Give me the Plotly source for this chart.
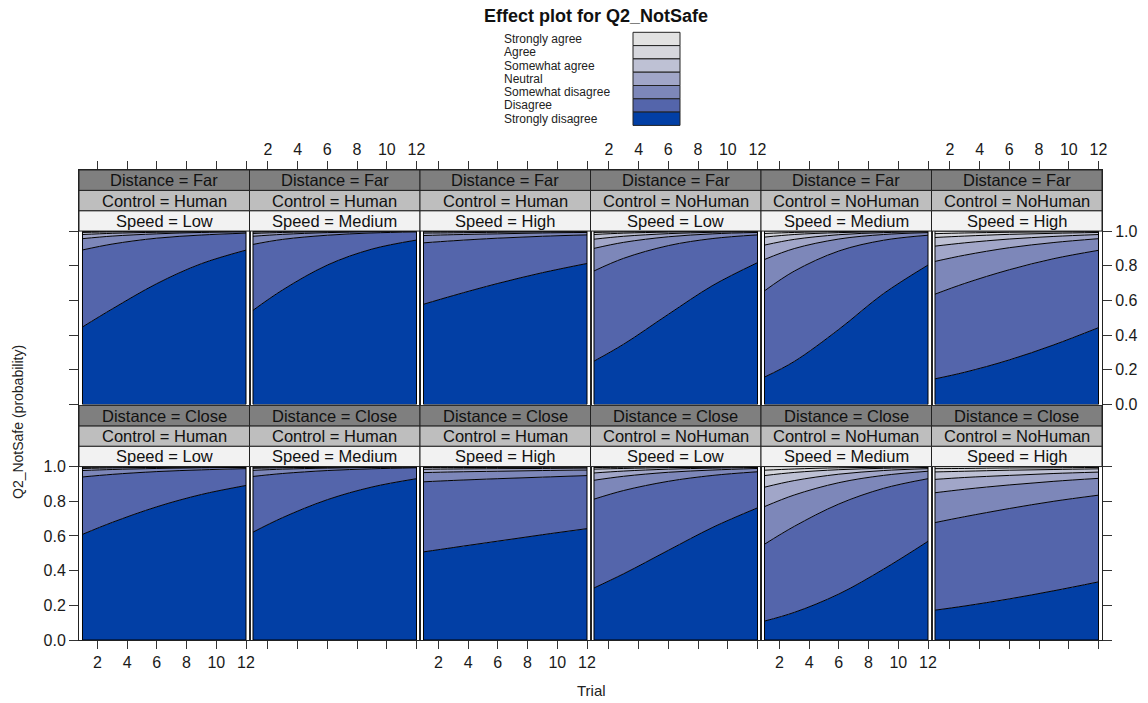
import math
import plotly.graph_objects as go

W, H = 1148, 703

# ---------------- data ----------------
TRIALS = [1, 3, 6, 9, 12]
LEVELS = ["Strongly disagree", "Disagree", "Somewhat disagree", "Neutral",
          "Somewhat agree", "Agree", "Strongly agree"]
DISTANCE = ["Far", "Close"]
CONTROL = ["Human", "Human", "Human", "NoHuman", "NoHuman", "NoHuman"]
SPEED = ["Low", "Medium", "High", "Low", "Medium", "High"]
X_TICKS = [2, 4, 6, 8, 10, 12]
Y_TICKS = [0.0, 0.2, 0.4, 0.6, 0.8, 1.0]

# cumulative probability P(Q2_NotSafe <= level) for the six lower levels,
# read at each value of TRIALS
FAR_HUMAN_LOW = [
    [0.447, 0.551, 0.697, 0.812, 0.890],
    [0.891, 0.925, 0.959, 0.977, 0.988],
    [0.956, 0.971, 0.984, 0.992, 0.995],
    [0.980, 0.987, 0.993, 0.996, 0.998],
    [0.992, 0.995, 0.997, 0.998, 0.999],
    [0.997, 0.998, 0.999, 0.999, 1.000],
]
FAR_HUMAN_MEDIUM = [
    [0.543, 0.661, 0.804, 0.896, 0.948],
    [0.923, 0.952, 0.976, 0.989, 0.995],
    [0.970, 0.981, 0.991, 0.996, 0.998],
    [0.986, 0.992, 0.996, 0.998, 0.999],
    [0.994, 0.997, 0.998, 0.999, 1.000],
    [0.998, 0.999, 0.999, 1.000, 1.000],
]
FAR_HUMAN_HIGH = [
    [0.578, 0.628, 0.698, 0.760, 0.813],
    [0.932, 0.944, 0.959, 0.970, 0.978],
    [0.974, 0.979, 0.984, 0.989, 0.992],
    [0.988, 0.990, 0.993, 0.995, 0.996],
    [0.995, 0.996, 0.997, 0.998, 0.998],
    [0.998, 0.998, 0.999, 0.999, 0.999],
]
FAR_NOHUMAN_LOW = [
    [0.250, 0.348, 0.520, 0.687, 0.818],
    [0.770, 0.843, 0.916, 0.957, 0.978],
    [0.900, 0.935, 0.967, 0.984, 0.992],
    [0.953, 0.970, 0.985, 0.993, 0.996],
    [0.980, 0.988, 0.994, 0.997, 0.998],
    [0.992, 0.995, 0.998, 0.999, 0.999],
]
FAR_NOHUMAN_MEDIUM = [
    [0.158, 0.248, 0.433, 0.639, 0.804],
    [0.655, 0.769, 0.885, 0.947, 0.976],
    [0.836, 0.899, 0.954, 0.980, 0.991],
    [0.919, 0.952, 0.979, 0.991, 0.996],
    [0.965, 0.980, 0.991, 0.996, 0.998],
    [0.986, 0.992, 0.997, 0.999, 0.999],
]
FAR_NOHUMAN_HIGH = [
    [0.148, 0.186, 0.257, 0.344, 0.443],
    [0.636, 0.698, 0.777, 0.841, 0.889],
    [0.825, 0.861, 0.904, 0.934, 0.956],
    [0.913, 0.932, 0.954, 0.969, 0.980],
    [0.963, 0.971, 0.981, 0.987, 0.992],
    [0.985, 0.989, 0.993, 0.995, 0.997],
]
CLOSE_HUMAN_LOW = [
    [0.609, 0.678, 0.768, 0.839, 0.891],
    [0.940, 0.955, 0.971, 0.981, 0.988],
    [0.977, 0.983, 0.989, 0.993, 0.995],
    [0.989, 0.992, 0.995, 0.997, 0.998],
    [0.996, 0.997, 0.998, 0.999, 0.999],
    [0.998, 0.999, 0.999, 1.000, 1.000],
]
CLOSE_HUMAN_MEDIUM = [
    [0.622, 0.706, 0.809, 0.882, 0.930],
    [0.943, 0.960, 0.977, 0.987, 0.993],
    [0.978, 0.985, 0.991, 0.995, 0.997],
    [0.990, 0.993, 0.996, 0.998, 0.999],
    [0.996, 0.997, 0.998, 0.999, 1.000],
    [0.998, 0.999, 0.999, 1.000, 1.000],
]
CLOSE_HUMAN_HIGH = [
    [0.508, 0.533, 0.570, 0.607, 0.642],
    [0.912, 0.920, 0.930, 0.939, 0.948],
    [0.965, 0.969, 0.973, 0.977, 0.980],
    [0.984, 0.986, 0.988, 0.989, 0.991],
    [0.994, 0.994, 0.995, 0.996, 0.996],
    [0.997, 0.998, 0.998, 0.998, 0.999],
]
CLOSE_NOHUMAN_LOW = [
    [0.300, 0.382, 0.517, 0.650, 0.762],
    [0.812, 0.862, 0.915, 0.949, 0.970],
    [0.921, 0.944, 0.967, 0.980, 0.989],
    [0.963, 0.974, 0.985, 0.991, 0.995],
    [0.985, 0.989, 0.994, 0.996, 0.998],
    [0.994, 0.996, 0.998, 0.999, 0.999],
]
CLOSE_NOHUMAN_MEDIUM = [
    [0.109, 0.159, 0.265, 0.408, 0.569],
    [0.552, 0.655, 0.784, 0.874, 0.930],
    [0.769, 0.836, 0.907, 0.949, 0.973],
    [0.881, 0.919, 0.956, 0.977, 0.988],
    [0.948, 0.966, 0.982, 0.990, 0.995],
    [0.979, 0.986, 0.993, 0.996, 0.998],
]
CLOSE_NOHUMAN_HIGH = [
    [0.172, 0.196, 0.237, 0.284, 0.335],
    [0.677, 0.711, 0.758, 0.800, 0.835],
    [0.849, 0.869, 0.894, 0.915, 0.932],
    [0.926, 0.937, 0.949, 0.960, 0.968],
    [0.969, 0.973, 0.979, 0.983, 0.987],
    [0.988, 0.989, 0.992, 0.993, 0.995],
]

PANEL_DATA = [
    [FAR_HUMAN_LOW, FAR_HUMAN_MEDIUM, FAR_HUMAN_HIGH,
     FAR_NOHUMAN_LOW, FAR_NOHUMAN_MEDIUM, FAR_NOHUMAN_HIGH],
    [CLOSE_HUMAN_LOW, CLOSE_HUMAN_MEDIUM, CLOSE_HUMAN_HIGH,
     CLOSE_NOHUMAN_LOW, CLOSE_NOHUMAN_MEDIUM, CLOSE_NOHUMAN_HIGH],
]


# ---------------- colours (sequential HCL, hue 260) ----------------
def hcl_to_hex(h, c, l):
    xn, yn, zn = 95.047, 100.0, 108.883
    u = c * math.cos(math.radians(h))
    v = c * math.sin(math.radians(h))
    y = yn * ((l + 16) / 116) ** 3 if l > 8 else yn * l / 903.3
    den = xn + 15 * yn + 3 * zn
    un, vn = 4 * xn / den, 9 * yn / den
    up = u / (13 * l) + un
    vp = v / (13 * l) + vn
    x = 9 * y * up / (4 * vp)
    z = y * (12 - 3 * up - 20 * vp) / (4 * vp)
    x, y, z = x / 100, y / 100, z / 100
    rgb = [3.240479 * x - 1.537150 * y - 0.498535 * z,
           -0.969256 * x + 1.875992 * y + 0.041556 * z,
           0.055648 * x - 0.204043 * y + 1.057311 * z]
    out = []
    for ch in rgb:
        ch = 12.92 * ch if ch <= 0.0031308 else 1.055 * ch ** (1 / 2.4) - 0.055
        out.append(int(round(min(max(ch, 0), 1) * 255)))
    return "#%02X%02X%02X" % tuple(out)


n = len(LEVELS)
COLORS = []
for k in range(n):
    t = (n - 1 - k) / (n - 1)
    COLORS.append(hcl_to_hex(260, 80 * t ** 1.5, 90 - 60 * t ** 1.5))

FONT = "Liberation Sans, Arial, Helvetica, sans-serif"
STRIP_COLORS = ["#F2F2F2", "#BEBEBE", "#7F7F7F"]  # Speed, Control, Distance
YMAX = 1.352
STRIP_H = (YMAX - 1) / 3

fig = go.Figure()
layout = dict(
    width=W, height=H, margin=dict(l=0, r=0, t=0, b=0, pad=0),
    paper_bgcolor="white", plot_bgcolor="white", showlegend=False,
    font=dict(family=FONT, color="#1a1a1a"),
)
shapes = []
annotations = []

COL_LEFT, COL_W = 79.0, 170.5
ROW_PIX = [(170.0, 404.5), (405.5, 640.0)]

for r in range(2):
    for c in range(6):
        idx = r * 6 + c + 1
        sfx = "" if idx == 1 else str(idx)
        xr, yr = "x" + sfx, "y" + sfx
        cum = PANEL_DATA[r][c]

        # stacked areas
        for k in range(len(cum)):
            fig.add_trace(go.Scatter(
                x=TRIALS, y=cum[k], mode="lines",
                line=dict(color="black", width=1, shape="spline"),
                fill="tozeroy" if k == 0 else "tonexty",
                fillcolor=COLORS[k], xaxis=xr, yaxis=yr,
                hoverinfo="skip", name=LEVELS[k]))
        fig.add_trace(go.Scatter(
            x=TRIALS, y=[1.0] * len(TRIALS), mode="lines",
            line=dict(color="black", width=1),
            fill="tonexty", fillcolor=COLORS[-1], xaxis=xr, yaxis=yr,
            hoverinfo="skip", name=LEVELS[-1]))
        # polygon outline at both ends
        fig.add_trace(go.Scatter(
            x=[TRIALS[-1], TRIALS[-1], TRIALS[0], TRIALS[0]],
            y=[1.0, 0.0, 0.0, 1.0], mode="lines",
            line=dict(color="black", width=1), xaxis=xr, yaxis=yr,
            hoverinfo="skip"))

        x0 = (COL_LEFT + c * COL_W) / W
        x1 = (COL_LEFT + (c + 1) * COL_W) / W
        ytop, ybot = ROW_PIX[r]
        layout["xaxis" + sfx] = dict(
            domain=[x0, x1], anchor=yr, range=[0.765, 12.235],
            tickvals=X_TICKS, ticks="outside", ticklen=8, tickcolor="#333",
            showline=True, linecolor="#222", linewidth=1, mirror=True,
            showgrid=False, zeroline=False, automargin=False,
            side="top" if r == 0 else "bottom",
            showticklabels=(c % 2 == 1) if r == 0 else (c % 2 == 0),
            tickfont=dict(size=16, family=FONT, color="#1a1a1a"),
            fixedrange=True)
        layout["yaxis" + sfx] = dict(
            domain=[1 - ybot / H, 1 - ytop / H], anchor=xr, range=[0, YMAX],
            tickvals=Y_TICKS, tickformat=".1f",
            ticks="outside" if c in (0, 5) else "", ticklen=9, tickcolor="#333",
            side="right" if c == 5 else "left",
            showticklabels=(r == 1 and c == 0) or (r == 0 and c == 5),
            showline=True, linecolor="#222", linewidth=1, mirror=True,
            showgrid=False, zeroline=False, automargin=False,
            tickfont=dict(size=16, family=FONT, color="#1a1a1a"),
            fixedrange=True)

        strip_text = [f"Speed = {SPEED[c]}", f"Control = {CONTROL[c]}",
                      f"Distance = {DISTANCE[r]}"]
        for s in range(3):
            y0 = 1 + s * STRIP_H
            shapes.append(dict(
                type="rect", xref=xr + " domain", yref=yr,
                x0=0, x1=1, y0=y0, y1=y0 + STRIP_H,
                fillcolor=STRIP_COLORS[s], line=dict(color="#222", width=1),
                layer="above"))
            annotations.append(dict(
                xref=xr + " domain", yref=yr, x=0.5, y=y0 + STRIP_H / 2,
                text=strip_text[s], showarrow=False,
                font=dict(size=16.5, family=FONT, color="#111"),
                xanchor="center", yanchor="middle"))

# ---------------- key ----------------
SW_X0, SW_X1, SW_TOP, SW_H = 633, 680, 32.3, 13.3
for j, lev in enumerate(reversed(LEVELS)):
    col = COLORS[n - 1 - j]
    ytop = SW_TOP + j * SW_H
    shapes.append(dict(
        type="rect", xref="paper", yref="paper",
        x0=SW_X0 / W, x1=SW_X1 / W, y0=1 - (ytop + SW_H) / H, y1=1 - ytop / H,
        fillcolor=col, line=dict(color="#222", width=1)))
    annotations.append(dict(
        xref="paper", yref="paper", x=502 / W, y=1 - (ytop + SW_H / 2) / H,
        text=lev, showarrow=False, xanchor="left", yanchor="middle",
        font=dict(size=12, family=FONT, color="#222")))

annotations.append(dict(
    xref="paper", yref="paper", x=596 / W, y=1 - 16 / H,
    text="<b>Effect plot for Q2_NotSafe</b>", showarrow=False,
    xanchor="center", yanchor="middle",
    font=dict(size=18, family=FONT, color="#111")))
annotations.append(dict(
    xref="paper", yref="paper", x=18 / W, y=1 - 422 / H,
    text="Q2_NotSafe (probability)", showarrow=False, textangle=-90,
    xanchor="center", yanchor="middle",
    font=dict(size=14, family=FONT, color="#222")))
annotations.append(dict(
    xref="paper", yref="paper", x=591 / W, y=1 - 690 / H,
    text="Trial", showarrow=False, xanchor="center", yanchor="middle",
    font=dict(size=15, family=FONT, color="#222")))

layout["shapes"] = shapes
layout["annotations"] = annotations
fig.update_layout(**layout)
fig.write_html("out.html")
